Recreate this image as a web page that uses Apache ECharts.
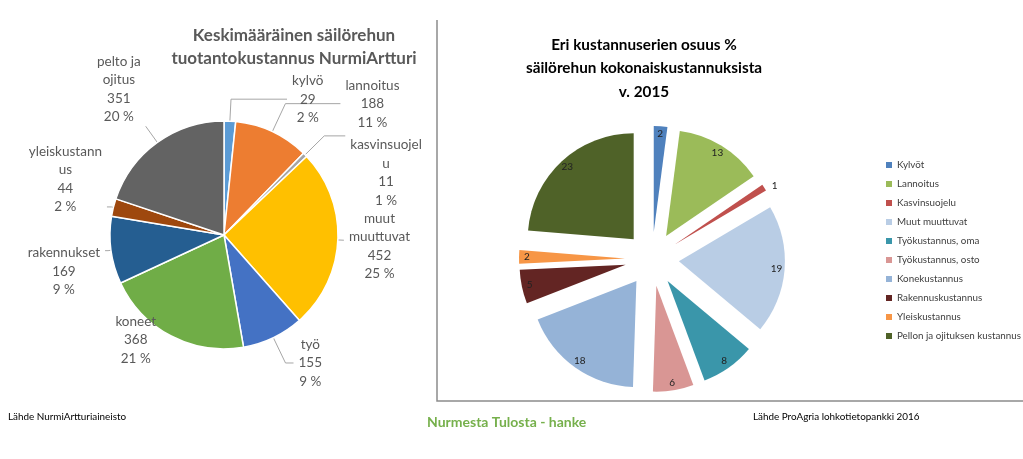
<!DOCTYPE html>
<html><head><meta charset="utf-8">
<script src="https://cdn.jsdelivr.net/npm/echarts@6/dist/echarts.min.js"></script>
<style>html,body{margin:0;padding:0;background:#fff}#c{width:1023px;height:459px}</style>
</head><body><div id="c"></div>
<script>
// ---- Left chart data ----
const leftCategories = ['kylvö','lannoitus','kasvinsuojelu','muut muuttuvat','työ','koneet','rakennukset','yleiskustannus','pelto ja ojitus'];
const leftLabelNames = ['kylvö','lannoitus','kasvinsuojel\nu','muut\nmuuttuvat','työ','koneet','rakennukset','yleiskustann\nus','pelto ja\nojitus'];
const leftValues = [29, 188, 11, 452, 155, 368, 169, 44, 351];
const leftColors = ['#5B9BD5','#ED7D31','#A5A5A5','#FFC000','#4472C4','#70AD47','#255E91','#9E480E','#636363'];

// ---- Right chart data ----
const rightCategories = ['Kylvöt','Lannoitus','Kasvinsuojelu','Muut muuttuvat','Työkustannus, oma','Työkustannus, osto','Konekustannus','Rakennuskustannus','Yleiskustannus','Pellon ja ojituksen kustannus'];
const rightValues = [2, 13, 1, 19, 8, 6, 18, 5, 2, 23];
const rightColors = ['#4F81BD','#9BBB59','#C0504D','#B9CDE5','#3A96AA','#D99694','#95B3D7','#632523','#F79646','#4F6228'];

// ---- label styling (leader-line lengths / anchoring per left label) ----
const leftLineStyle = [
  {length: 22, length2: 56, va: 'middle', line: true, pad: 0},
  {length: 31, length2: 55, va: 'middle', line: true, pad: 0},
  {length: 27, length2: 21, va: 'top', line: true, pad: 0},
  {length: 6, length2: 0, va: 'middle', line: true, pad: [12, 0, 0, 0]},
  {length: 28, length2: 8, va: 'middle', line: true, pad: 0},
  {length: 4.5, length2: 8, va: 'middle', line: false, pad: 0},
  {length: 3, length2: 3, va: 'top', line: true, pad: [-7, 0, 0, 0]},
  {length: 2, length2: 4.5, va: 'bottom', line: true, pad: [0, 0, -9, 0]},
  {length: 20, length2: 0, va: 'bottom', line: true, pad: 0}
];

const FONT = 'Lato, "Open Sans", sans-serif';
const chart = echarts.init(document.getElementById('c'), null, {renderer:'canvas'});

const option = {
  animation: false,
  backgroundColor: '#fff',
  legend: {
    orient: 'vertical', left: 886, top: 159, padding: 0,
    itemWidth: 6, itemHeight: 6, itemGap: 7, icon: 'rect',
    selectedMode: false,
    textStyle: {fontFamily: FONT, fontSize: 9.8, color: '#404040', lineHeight: 12},
    data: rightCategories
  },
  graphic: [
    {type:'polyline', shape:{points:[[437,20],[437,401],[1023,401]]}, style:{stroke:'#8c8c8c', lineWidth:1.5, fill:null}},
    {type:'text', x:294, y:47, style:{text:'Keskimääräinen säilörehun\ntuotantokustannus NurmiArtturi', textAlign:'center', textVerticalAlign:'middle', fontFamily:FONT, fontWeight:'bold', fontSize:17, lineHeight:23, fill:'#595959'}},
    {type:'text', x:644, y:68.5, style:{text:'Eri kustannuserien osuus %\nsäilörehun kokonaiskustannuksista\nv. 2015', textAlign:'center', textVerticalAlign:'middle', fontFamily:FONT, fontWeight:'bold', fontSize:15.3, lineHeight:23.5, fill:'#000'}},
    {type:'text', x:8, y:417, style:{text:'Lähde NurmiArtturiaineisto', textAlign:'left', textVerticalAlign:'middle', fontFamily:FONT, fontSize:9.9, fill:'#000'}},
    {type:'text', x:427, y:422, style:{text:'Nurmesta Tulosta - hanke', textAlign:'left', textVerticalAlign:'middle', fontFamily:FONT, fontWeight:'bold', fontSize:14, fill:'#76B04C'}},
    {type:'text', x:753, y:417, style:{text:'Lähde ProAgria lohkotietopankki 2016', textAlign:'left', textVerticalAlign:'middle', fontFamily:FONT, fontSize:9.9, fill:'#000'}}
  ],
  series: [
    {
      type: 'pie', name: 'left', center: [224, 235], radius: 114,
      startAngle: 90, clockwise: true, percentPrecision: 0,
      silent: true, avoidLabelOverlap: false,
      itemStyle: {borderColor: '#fff', borderWidth: 1.5},
      label: {
        show: true, position: 'outside', distanceToLabelLine: 5,
        formatter: p => (leftLabelNames[p.dataIndex] + '\n' + p.value + '\n' + p.percent + ' %')
          .split('\n').map(s => '{a|' + s + '}').join('\n'),
        rich: {a: {align: 'center', fontFamily: FONT, fontSize: 13.5, color: '#595959', lineHeight: 18.5}},
        fontFamily: FONT, fontSize: 13.5, color: '#595959', lineHeight: 18.5
      },
      labelLine: {show: true, lineStyle: {color: '#A6A6A6', width: 1}},
      labelLayout: p => ({verticalAlign: leftLineStyle[p.dataIndex].va}),
      data: leftCategories.map((n, i) => ({
        name: n, value: leftValues[i],
        itemStyle: {color: leftColors[i]},
        label: {padding: leftLineStyle[i].pad},
        labelLine: {show: leftLineStyle[i].line, length: leftLineStyle[i].length, length2: leftLineStyle[i].length2}
      }))
    },
    {
      type: 'pie', name: 'right', center: [652, 259], radius: 106,
      startAngle: 90, clockwise: true,
      selectedMode: 'multiple', selectedOffset: 27,
      silent: true,
      label: {show: false},
      labelLine: {show: false, length: 3, length2: 0},
      data: rightCategories.map((n, i) => ({
        name: n, value: rightValues[i], selected: true,
        itemStyle: {color: rightColors[i]},
        label: i === 2 ? {show: true, position: 'outside', fontFamily: FONT, fontSize: 10, color: '#222', formatter: '{c}'} : undefined
      }))
    },
    {
      type: 'pie', name: 'rightLabels', center: [652, 259], radius: 190,
      startAngle: 90, clockwise: true,
      selectedMode: 'multiple', selectedOffset: 27,
      silent: true,
      itemStyle: {color: 'rgba(0,0,0,0)'},
      label: {show: true, position: 'inside', fontFamily: FONT, fontSize: 10, color: '#222', formatter: '{c}'},
      labelLine: {show: false},
      data: rightCategories.map((n, i) => ({
        name: n, value: rightValues[i], selected: true,
        itemStyle: {color: 'rgba(0,0,0,0)'},
        label: i === 2 ? {show: false} : undefined
      }))
    }
  ]
};
chart.setOption(option);
</script>
</body></html>
